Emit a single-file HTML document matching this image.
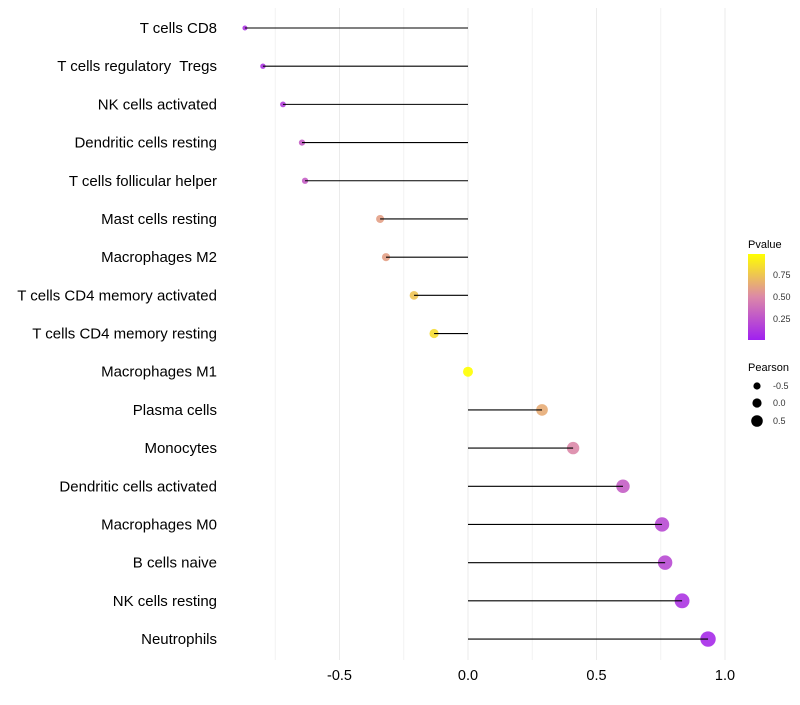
<!DOCTYPE html>
<html><head><meta charset="utf-8"><style>
body{margin:0;background:#fff;font-family:"Liberation Sans",sans-serif}
text{white-space:pre}
</style></head><body>
<svg id="c" width="800" height="700" xmlns="http://www.w3.org/2000/svg">
<defs><linearGradient id="pg" x1="0" y1="1" x2="0" y2="0">
<stop offset="0" stop-color="#a020f0"/><stop offset="0.5" stop-color="#dc88a8"/><stop offset="1" stop-color="#ffff00"/></linearGradient></defs>
</svg>
<script>
const categories=["T cells CD8","T cells regulatory  Tregs","NK cells activated","Dendritic cells resting","T cells follicular helper","Mast cells resting","Macrophages M2","T cells CD4 memory activated","T cells CD4 memory resting","Macrophages M1","Plasma cells","Monocytes","Dendritic cells activated","Macrophages M0","B cells naive","NK cells resting","Neutrophils"];
const pearson=[-0.868,-0.798,-0.72,-0.646,-0.634,-0.342,-0.319,-0.21,-0.132,0,0.288,0.409,0.603,0.755,0.767,0.833,0.934];
const pvalue=[0.1,0.1,0.15,0.3,0.3,0.6,0.6,0.75,0.85,1.0,0.65,0.5,0.3,0.2,0.2,0.1,0.05];
const xTicks=[-0.5,0,0.5,1];
const xTickLabels=["-0.5","0.0","0.5","1.0"];
const svg=document.getElementById('c');const NS="http://www.w3.org/2000/svg";
function X(v){return 468+v*257;}
function Y(i){return 28+i*38.19;}
function R(p){return 5+2.9*p;}
function col(p){
 const s=[[0,[160,32,240]],[0.5,[220,136,168]],[1,[255,255,0]]];
 p=Math.max(0,Math.min(1,p));let a=s[0],b=s[1];if(p>0.5){a=s[1];b=s[2];}
 const t=(p-a[0])/(b[0]-a[0]);const c=a[1].map((v,k)=>Math.round(v+(b[1][k]-v)*t));
 return `rgb(${c[0]},${c[1]},${c[2]})`;}
function el(t,at,txt){const e=document.createElementNS(NS,t);for(const k in at)e.setAttribute(k,at[k]);if(txt!=null)e.textContent=txt;svg.appendChild(e);return e;}
for(const v of [-0.75,-0.25,0.25,0.75]){const g=el('line',{x1:X(v),x2:X(v),y1:8,y2:660,stroke:'#f2f2f2','stroke-width':1});

}
xTicks.forEach((v,i)=>{const g=el('line',{x1:X(v),x2:X(v),y1:8,y2:660,stroke:'#ebebeb','stroke-width':1});


const t=el('text',{x:X(v),y:680,'font-size':14.5,'text-anchor':'middle',fill:'#000'},xTickLabels[i]);

});
categories.forEach((c,i)=>{const y=Y(i);
const t=el('text',{x:217,y:y+5,'font-size':15,'text-anchor':'end',fill:'#000'},c);


const d=el('circle',{cx:X(pearson[i]),cy:y,r:R(pearson[i]),fill:col(pvalue[i]),'fill-opacity':0.9});


const l=el('line',{x1:X(0),x2:X(pearson[i]),y1:y,y2:y,stroke:'#000','stroke-width':1.1});

});
</script>
<svg style="position:absolute;left:0;top:0" width="800" height="700">
<text x="748" y="248" font-size="11" font-family="Liberation Sans">Pvalue</text>
<rect x="748" y="254" width="17" height="86" fill="url(#pg)"/>
<g font-size="9" font-family="Liberation Sans" fill="#333">
<text x="773" y="278">0.75</text>
<text x="773" y="300">0.50</text>
<text x="773" y="322">0.25</text></g>
<text x="748" y="371" font-size="11" font-family="Liberation Sans">Pearson</text>
<circle cx="757" cy="386" r="3.6" fill="#000"/>
<circle cx="757" cy="403" r="4.6" fill="#000"/>
<circle cx="757" cy="421" r="5.8" fill="#000"/>
<g font-size="9" font-family="Liberation Sans" fill="#333">
<text x="773" y="389">-0.5</text>
<text x="773" y="406">0.0</text>
<text x="773" y="424">0.5</text></g>
</svg>
</body></html>
